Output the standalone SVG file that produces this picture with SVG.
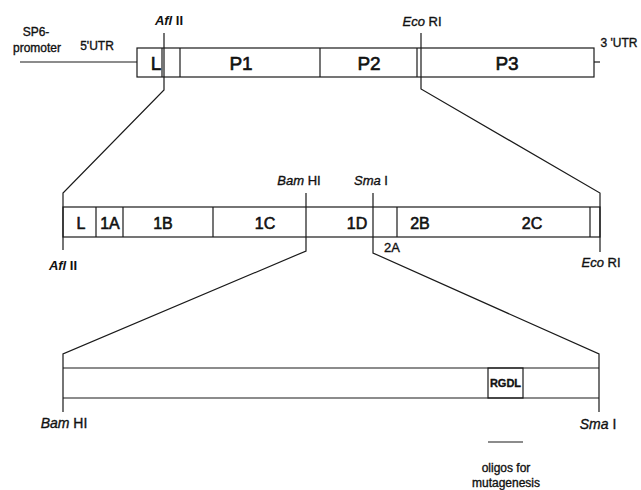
<svg xmlns="http://www.w3.org/2000/svg" width="641" height="490" viewBox="0 0 641 490">
<style>
  .ln{stroke:#1a1a1a;stroke-width:1.2;fill:none}
  .t{font-family:"Liberation Sans",Arial,sans-serif;fill:#111;stroke:#111;stroke-width:0.35}
  .big{font-size:19px;stroke-width:0.6}
  .mid{font-size:16px;stroke-width:0.6}
  .sm{font-size:12px}
  .enz{font-size:13px;font-weight:bold;stroke-width:0}
  .it{font-style:italic}
</style>
<rect width="641" height="490" fill="#fff"/>
<g id="connectors">
  <polyline class="ln" points="164,33 164,90 63,193 63,250"/>
  <polyline class="ln" points="421,33 421,89 600,193 600,252"/>
  <polyline class="ln" points="306,193 306,251 63,354 63,412"/>
  <polyline class="ln" points="373,193 373,253 599,354 599,412"/>
</g>
<g id="genome">
  <line class="ln" x1="20" y1="62" x2="137" y2="62"/>
  <rect class="ln" x="137" y="48" width="457" height="29"/>
  <line class="ln" x1="162" y1="48" x2="162" y2="77"/>
  <line class="ln" x1="180" y1="48" x2="180" y2="77"/>
  <line class="ln" x1="320" y1="48" x2="320" y2="77"/>
  <line class="ln" x1="417" y1="48" x2="417" y2="77"/>
  <line class="ln" x1="594" y1="62" x2="600" y2="62"/>
  <text class="t sm" x="36" y="36" text-anchor="middle">SP6-</text>
  <text class="t sm" x="37" y="52" text-anchor="middle">promoter</text>
  <text class="t sm" x="97" y="50" text-anchor="middle">5'UTR</text>
  <text class="t sm" x="619" y="47" text-anchor="middle">3 'UTR</text>
  <text class="t big" x="156" y="70" text-anchor="middle">L</text>
  <text class="t big" x="241" y="70" text-anchor="middle">P1</text>
  <text class="t big" x="369" y="70" text-anchor="middle">P2</text>
  <text class="t big" x="507" y="70" text-anchor="middle">P3</text>
</g>
<g id="afl-top"><text class="t enz" x="169" y="25" text-anchor="middle"><tspan class="it">Afl</tspan> II</text></g>
<g id="eco-top"><text class="t" x="422" y="26" text-anchor="middle" font-size="13"><tspan class="it">Eco</tspan> RI</text></g>
<g id="p1-region">
  <rect class="ln" x="63" y="207" width="537" height="30"/>
  <line class="ln" x1="96" y1="207" x2="96" y2="237"/>
  <line class="ln" x1="123" y1="207" x2="123" y2="237"/>
  <line class="ln" x1="213" y1="207" x2="213" y2="237"/>
  <line class="ln" x1="397" y1="207" x2="397" y2="237"/>
  <line class="ln" x1="590" y1="207" x2="590" y2="237"/>
  <text class="t mid" x="81" y="229" text-anchor="middle">L</text>
  <text class="t mid" x="110" y="229" text-anchor="middle">1A</text>
  <text class="t mid" x="163" y="229" text-anchor="middle">1B</text>
  <text class="t mid" x="265" y="229" text-anchor="middle">1C</text>
  <text class="t mid" x="357" y="229" text-anchor="middle">1D</text>
  <text class="t mid" x="420" y="229" text-anchor="middle">2B</text>
  <text class="t mid" x="532" y="229" text-anchor="middle">2C</text>
  <text class="t" x="392" y="252" text-anchor="middle" font-size="13">2A</text>
</g>
<g id="afl-mid"><text class="t enz" x="63" y="270" text-anchor="middle"><tspan class="it">Afl</tspan> II</text></g>
<g id="eco-mid"><text class="t" x="601" y="267" text-anchor="middle" font-size="13"><tspan class="it">Eco</tspan> RI</text></g>
<g id="bam-mid"><text class="t" x="299" y="185" text-anchor="middle" font-size="13"><tspan class="it">Bam</tspan> HI</text></g>
<g id="sma-mid"><text class="t" x="371" y="185" text-anchor="middle" font-size="13"><tspan class="it">Sma</tspan> I</text></g>
<g id="fragment">
  <line class="ln" x1="63" y1="368" x2="599" y2="368"/>
  <line class="ln" x1="63" y1="398" x2="599" y2="398"/>
  <rect class="ln" x="488" y="368" width="35" height="30"/>
  <text class="t" x="505.5" y="387" text-anchor="middle" font-size="11" font-weight="bold" stroke-width="0">RGDL</text>
</g>
<g id="bam-bot"><text class="t" x="64" y="428" text-anchor="middle" font-size="14"><tspan class="it">Bam</tspan> HI</text></g>
<g id="sma-bot"><text class="t" x="598" y="429" text-anchor="middle" font-size="14"><tspan class="it">Sma</tspan> I</text></g>
<g id="oligos">
  <line class="ln" x1="488" y1="442" x2="523" y2="442"/>
  <text class="t sm" x="506" y="472" text-anchor="middle">oligos for</text>
  <text class="t sm" x="506" y="487" text-anchor="middle">mutagenesis</text>
</g>
</svg>
